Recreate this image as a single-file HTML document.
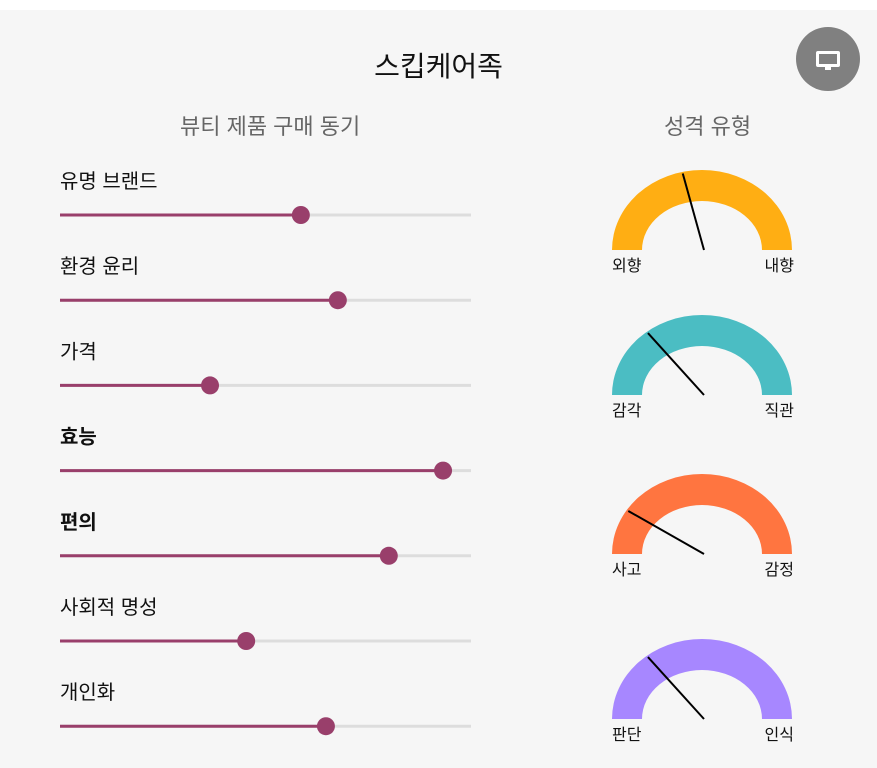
<!DOCTYPE html>
<html><head><meta charset="utf-8"><style>
body{margin:0;width:877px;height:768px;background:#fff;font-family:"Liberation Sans","Noto Sans CJK KR",sans-serif;overflow:hidden}
#panel{position:absolute;left:0;top:10px;width:877px;height:758px;background:#f6f6f6}
.t{position:absolute;white-space:nowrap}
</style></head><body>
<div id="panel"></div>
<div class="t" style="left:0;width:877px;text-align:center;top:45px;font-size:28px;color:#111">스킵케어족</div>
<div style="position:absolute;left:796px;top:27px;width:64px;height:64px;border-radius:50%;background:#808080">
<svg width="64" height="64"><rect x="20" y="24" width="24" height="16" rx="2" fill="#fff"/><rect x="23" y="27" width="18" height="10" fill="#808080"/><rect x="29" y="40" width="6" height="3" fill="#fff"/></svg></div>
<div class="t" style="left:180px;top:109px;font-size:22px;color:#666">뷰티 제품 구매 동기</div>
<div class="t" style="left:664px;top:109px;font-size:22px;color:#666">성격 유형</div>
<svg id="chart" width="877" height="768" style="position:absolute;left:0;top:0"></svg>
<script>
const motives=["유명 브랜드","환경 윤리","가격","효능","편의","사회적 명성","개인화"];
const motiveValues=[0.586,0.676,0.365,0.932,0.80,0.453,0.647];
const boldFlags=[false,false,false,true,true,false,false];
const gaugeLeft=["외향","감각","사고","판단"];
const gaugeRight=["내향","직관","감정","인식"];
const gaugeValues=[0.43,0.29,0.185,0.29];
const gaugeColors=["#ffae13","#4bbdc3","#ff7540","#a787ff"];
const svg=document.getElementById('chart');const NS="http://www.w3.org/2000/svg";
function mk(t,a){const e=document.createElementNS(NS,t);for(const k in a)e.setAttribute(k,a[k]);svg.appendChild(e);return e;}
const x0=60,x1=471;const xs=v=>x0+v*(x1-x0);
motives.forEach((m,i)=>{
 const y=215+i*85.2;
 const lab=mk('text',{x:60,y:y-27,'font-size':20,fill:'#111','font-weight':boldFlags[i]?'bold':'normal'});lab.textContent=m;
 
 
 const tr=mk('line',{x1:x0,x2:x1,y1:y,y2:y,stroke:'#ddd','stroke-width':3});
 
 
 const f=mk('line',{x1:x0,x2:xs(motiveValues[i]),y1:y,y2:y,stroke:'#993f6b','stroke-width':3});
 
 
 const th=mk('circle',{cx:xs(motiveValues[i]),cy:y,r:9,fill:'#993f6b'});
 
 
});
const gy=[250,395,554,719];
gaugeValues.forEach((v,i)=>{
 const cx=702,cy=gy[i],R=90,RY=80,r=60,ry=49;
 const p=mk('path',{d:`M${cx-R},${cy} A${R},${RY} 0 0 1 ${cx+R},${cy} L${cx+r},${cy} A${r},${ry} 0 0 0 ${cx-r},${cy} Z`,fill:gaugeColors[i]});
 
 
 const a=Math.PI*(1-v);
 const n=mk('line',{x1:cx+2,y1:cy,x2:cx+R*Math.cos(a)*0.98,y2:cy-RY*Math.sin(a)*0.98,stroke:'#000','stroke-width':2});
 
 
 const l=mk('text',{x:612,y:cy+21,'font-size':16,fill:'#111'});l.textContent=gaugeLeft[i];
 
 
 const rr=mk('text',{x:794,y:cy+21,'font-size':16,fill:'#111','text-anchor':'end'});rr.textContent=gaugeRight[i];
 
 
});
</script>
</body></html>
